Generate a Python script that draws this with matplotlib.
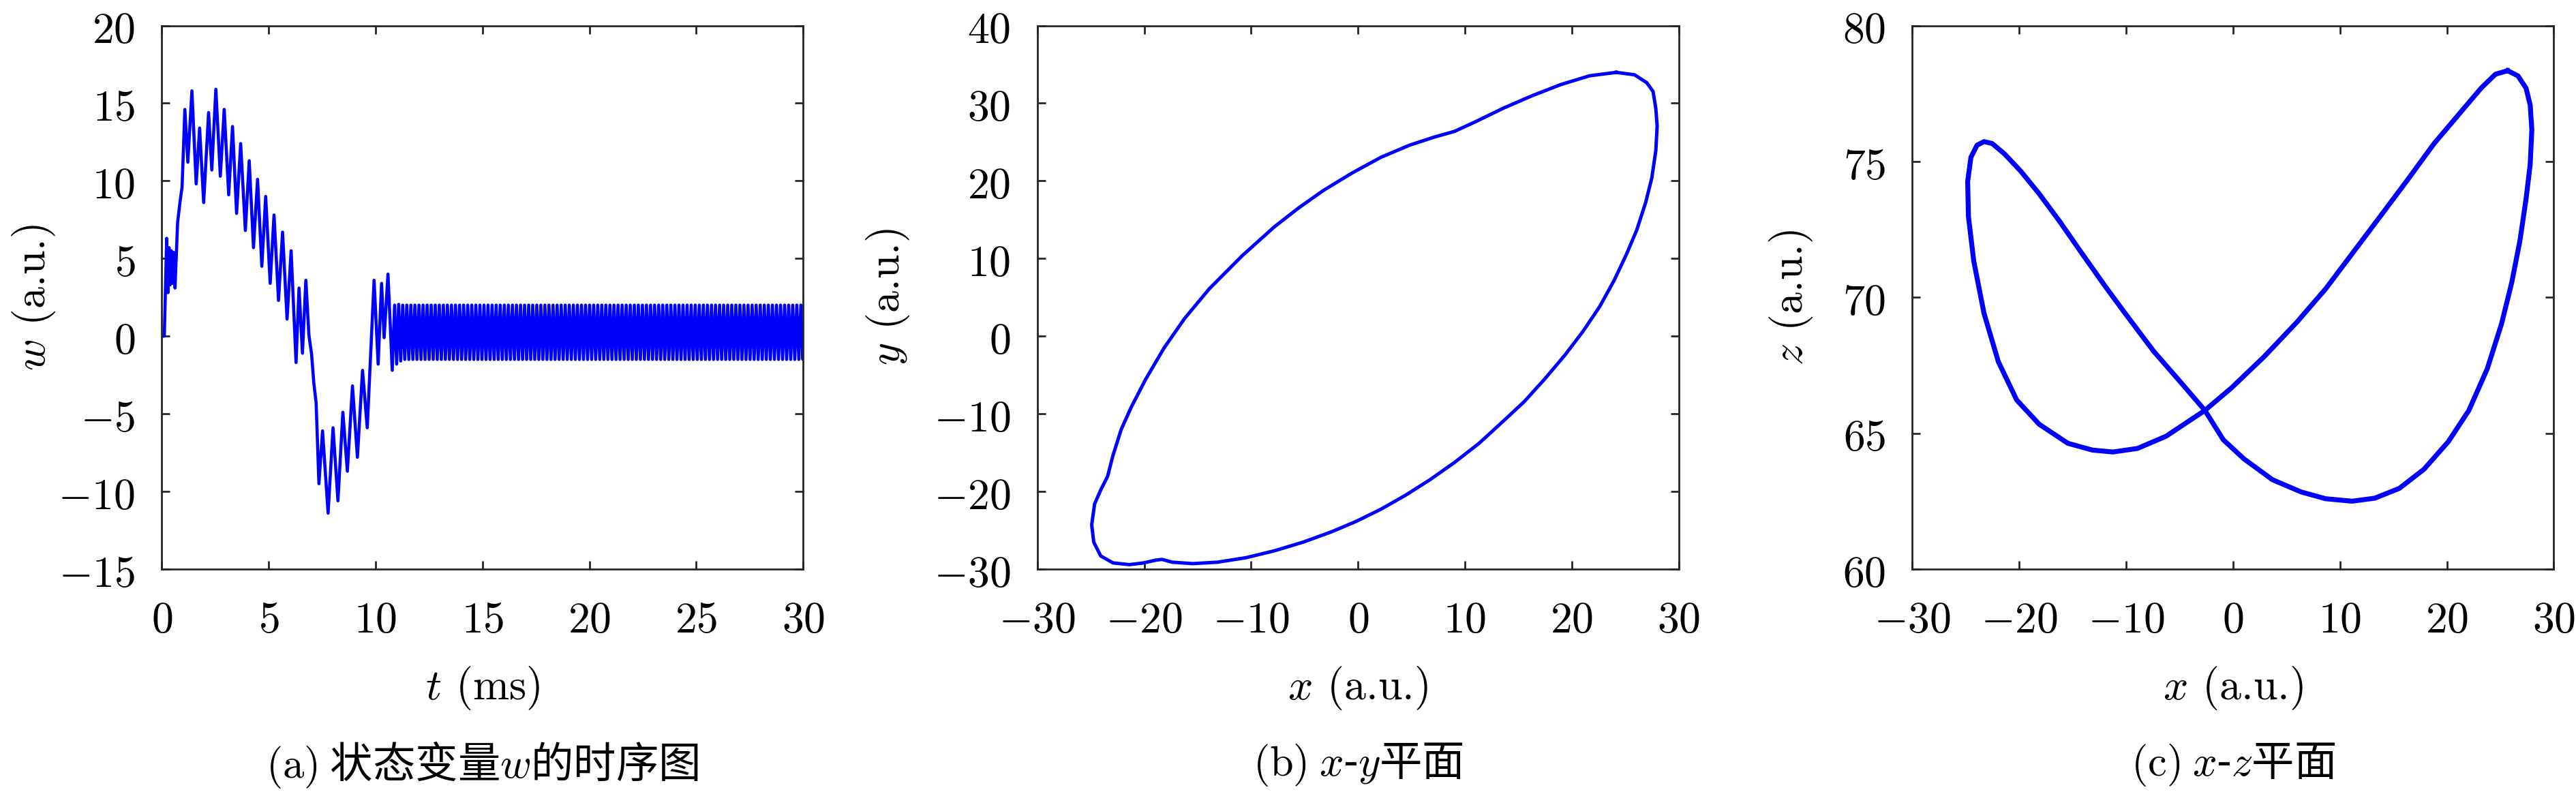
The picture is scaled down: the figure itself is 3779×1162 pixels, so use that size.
import matplotlib
matplotlib.use('Agg')
import matplotlib.pyplot as plt
from matplotlib.ticker import FuncFormatter, MultipleLocator

plt.rcParams['mathtext.fontset'] = 'cm'
plt.rcParams['font.family'] = ['Noto Sans CJK SC', 'DejaVu Sans']

# ---------------- panel (a): time series of w (transient, key points) ----------------
t_transient = [0.00, 0.12, 0.23, 0.29, 0.34, 0.39, 0.45, 0.50, 0.55, 0.62, 0.74, 0.85, 0.95, 1.00,
               1.08, 1.22, 1.41, 1.61, 1.77, 1.96, 2.19, 2.34, 2.53, 2.74, 2.92, 3.13, 3.31, 3.50,
               3.69, 3.91, 4.09, 4.29, 4.48, 4.68, 4.86, 5.07, 5.25, 5.46, 5.65, 5.86, 6.05, 6.28,
               6.42, 6.58, 6.74, 6.88, 7.01, 7.11, 7.22, 7.35, 7.52, 7.78, 8.01, 8.24, 8.47, 8.68,
               8.92, 9.15, 9.39, 9.61, 9.93, 10.12, 10.28, 10.40, 10.58, 10.78]
w_transient = [0.0, 0.0, 6.3, 2.8, 5.7, 3.3, 5.5, 3.4, 5.4, 3.1, 7.3, 8.6, 9.6, 11.5,
               14.6, 11.2, 15.8, 9.8, 13.4, 8.6, 14.4, 10.7, 15.9, 10.3, 14.6, 9.1, 13.5, 7.9,
               12.4, 6.8, 11.3, 5.7, 10.1, 4.5, 9.0, 3.4, 7.8, 2.3, 6.7, 1.1, 5.5, -1.7,
               3.1, -1.1, 3.6, 0.1, -1.2, -3.0, -4.3, -9.5, -6.1, -11.4, -5.9, -10.6, -4.9, -8.7,
               -3.2, -7.8, -2.2, -5.9, 3.6, -1.8, 3.4, -0.1, 4.0, -2.2]

# ---------------- panel (a): steady oscillation extrema ----------------
t_steady = [
    10.890, 10.985, 11.080, 11.175, 11.270, 11.365, 11.460, 11.555, 11.650, 11.745,
    11.840, 11.935, 12.030, 12.125, 12.220, 12.315, 12.410, 12.505, 12.600, 12.695,
    12.790, 12.885, 12.980, 13.075, 13.170, 13.265, 13.360, 13.455, 13.550, 13.645,
    13.740, 13.835, 13.930, 14.025, 14.120, 14.215, 14.310, 14.405, 14.500, 14.595,
    14.690, 14.785, 14.880, 14.975, 15.070, 15.165, 15.260, 15.355, 15.450, 15.545,
    15.640, 15.735, 15.830, 15.925, 16.020, 16.115, 16.210, 16.305, 16.400, 16.495,
    16.590, 16.685, 16.780, 16.875, 16.970, 17.065, 17.160, 17.255, 17.350, 17.445,
    17.540, 17.635, 17.730, 17.825, 17.920, 18.015, 18.110, 18.205, 18.300, 18.395,
    18.490, 18.585, 18.680, 18.775, 18.870, 18.965, 19.060, 19.155, 19.250, 19.345,
    19.440, 19.535, 19.630, 19.725, 19.820, 19.915, 20.010, 20.105, 20.200, 20.295,
    20.390, 20.485, 20.580, 20.675, 20.770, 20.865, 20.960, 21.055, 21.150, 21.245,
    21.340, 21.435, 21.530, 21.625, 21.720, 21.815, 21.910, 22.005, 22.100, 22.195,
    22.290, 22.385, 22.480, 22.575, 22.670, 22.765, 22.860, 22.955, 23.050, 23.145,
    23.240, 23.335, 23.430, 23.525, 23.620, 23.715, 23.810, 23.905, 24.000, 24.095,
    24.190, 24.285, 24.380, 24.475, 24.570, 24.665, 24.760, 24.855, 24.950, 25.045,
    25.140, 25.235, 25.330, 25.425, 25.520, 25.615, 25.710, 25.805, 25.900, 25.995,
    26.090, 26.185, 26.280, 26.375, 26.470, 26.565, 26.660, 26.755, 26.850, 26.945,
    27.040, 27.135, 27.230, 27.325, 27.420, 27.515, 27.610, 27.705, 27.800, 27.895,
    27.990, 28.085, 28.180, 28.275, 28.370, 28.465, 28.560, 28.655, 28.750, 28.845,
    28.940, 29.035, 29.130, 29.225, 29.320, 29.415, 29.510, 29.605, 29.700, 29.795,
    29.890, 29.985, 30.000]
w_steady = [
    2.0, -1.8, 2.05, -1.6, 2.0, -1.5, 2.0, -1.5, 2.0, -1.5,
    2.0, -1.5, 2.0, -1.5, 2.0, -1.5, 2.0, -1.5, 2.0, -1.5,
    2.0, -1.5, 2.0, -1.5, 2.0, -1.5, 2.0, -1.5, 2.0, -1.5,
    2.0, -1.5, 2.0, -1.5, 2.0, -1.5, 2.0, -1.5, 2.0, -1.5,
    2.0, -1.5, 2.0, -1.5, 2.0, -1.5, 2.0, -1.5, 2.0, -1.5,
    2.0, -1.5, 2.0, -1.5, 2.0, -1.5, 2.0, -1.5, 2.0, -1.5,
    2.0, -1.5, 2.0, -1.5, 2.0, -1.5, 2.0, -1.5, 2.0, -1.5,
    2.0, -1.5, 2.0, -1.5, 2.0, -1.5, 2.0, -1.5, 2.0, -1.5,
    2.0, -1.5, 2.0, -1.5, 2.0, -1.5, 2.0, -1.5, 2.0, -1.5,
    2.0, -1.5, 2.0, -1.5, 2.0, -1.5, 2.0, -1.5, 2.0, -1.5,
    2.0, -1.5, 2.0, -1.5, 2.0, -1.5, 2.0, -1.5, 2.0, -1.5,
    2.0, -1.5, 2.0, -1.5, 2.0, -1.5, 2.0, -1.5, 2.0, -1.5,
    2.0, -1.5, 2.0, -1.5, 2.0, -1.5, 2.0, -1.5, 2.0, -1.5,
    2.0, -1.5, 2.0, -1.5, 2.0, -1.5, 2.0, -1.5, 2.0, -1.5,
    2.0, -1.5, 2.0, -1.5, 2.0, -1.5, 2.0, -1.5, 2.0, -1.5,
    2.0, -1.5, 2.0, -1.5, 2.0, -1.5, 2.0, -1.5, 2.0, -1.5,
    2.0, -1.5, 2.0, -1.5, 2.0, -1.5, 2.0, -1.5, 2.0, -1.5,
    2.0, -1.5, 2.0, -1.5, 2.0, -1.5, 2.0, -1.5, 2.0, -1.5,
    2.0, -1.5, 2.0, -1.5, 2.0, -1.5, 2.0, -1.5, 2.0, -1.5,
    2.0, -1.5, 2.0, -1.5, 2.0, -1.5, 2.0, -1.5, 2.0, -1.5,
    2.0, -1.5, 0.3]

# ---------------- panel (b): x-y plane ----------------
x_b = [24.15, 25.87, 27.02, 27.60, 27.86, 27.98, 27.86, 27.48, 26.91, 26.07, 25.11, 23.96,
       22.62, 21.09, 19.37, 17.45, 15.54, 13.63, 11.33, 9.04, 6.74, 4.44, 2.15, -0.15,
       -2.45, -5.12, -7.80, -10.48, -13.16, -15.46, -17.37, -18.33, -18.90, -20.05, -21.39,
       -22.92, -24.07, -24.72, -24.91, -24.64, -24.07, -23.42, -22.92, -22.15, -21.20,
       -19.86, -18.14, -16.22, -13.93, -10.87, -7.80, -5.51, -3.21, -0.53, 2.15, 4.83,
       7.12, 9.04, 10.95, 13.63, 16.31, 18.99, 21.66, 24.15]
y_b = [33.97, 33.66, 32.63, 31.50, 29.29, 27.05, 23.93, 20.36, 17.23, 13.66, 10.54, 7.19,
       3.84, 0.71, -2.41, -5.54, -8.44, -10.89, -13.79, -16.25, -18.48, -20.49, -22.28, -23.84,
       -25.18, -26.52, -27.63, -28.53, -29.11, -29.29, -29.11, -28.75, -28.84, -29.20, -29.42,
       -29.20, -28.30, -26.52, -24.29, -21.61, -19.82, -18.04, -15.36, -12.01, -9.11,
       -5.54, -1.52, 2.28, 6.07, 10.31, 14.11, 16.56, 18.79, 21.03, 23.04, 24.60,
       25.63, 26.38, 27.59, 29.38, 30.98, 32.41, 33.53, 33.97]

# ---------------- panel (c): x-z plane ----------------
x_c = [25.68, 26.64, 27.40, 27.79, 27.94, 27.79, 27.40, 26.83, 26.07, 25.11, 23.77, 22.05,
       20.13, 17.84, 15.54, 13.25, 11.14, 8.65, 6.36, 3.68, 1.00, -0.92, -2.64, -4.74,
       -7.42, -10.10, -12.01, -14.31, -16.22, -18.14, -19.86, -21.39, -22.54, -23.30,
       -23.95, -24.53, -24.83, -24.76, -24.26, -23.30, -21.96, -20.24, -18.14, -15.46,
       -13.16, -11.25, -8.95, -6.27, -2.64, -0.15, 2.91, 5.97, 8.65, 11.33, 14.01, 16.31,
       18.80, 21.28, 23.20, 24.54, 25.68]
z_c = [78.34, 78.15, 77.70, 77.07, 76.17, 74.90, 73.62, 72.09, 70.56, 69.03, 67.37, 65.84,
       64.69, 63.67, 62.97, 62.61, 62.50, 62.59, 62.84, 63.29, 64.06, 64.76, 65.84, 66.80,
       68.01, 69.41, 70.43, 71.71, 72.79, 73.81, 74.64, 75.28, 75.66, 75.73,
       75.60, 75.15, 74.26, 72.98, 71.33, 69.41, 67.63, 66.22, 65.33, 64.63,
       64.38, 64.31, 64.44, 64.89, 65.84, 66.67, 67.82, 69.09, 70.31, 71.71, 73.11, 74.32,
       75.66, 76.81, 77.70, 78.21, 78.34]

# ---------------- axis settings ----------------
xlim_a, ylim_a = (0, 30), (-15, 20)
xlim_b, ylim_b = (-30, 30), (-30, 40)
xlim_c, ylim_c = (-30, 30), (60, 80)

W, H = 3780, 1162
BLUE = '#0000FF'
SPINE = '#262626'
TICKFS = 46
CAPFS = 45

fig = plt.figure(figsize=(W / 100, H / 100), dpi=100)

ax_top, ax_bot = 37.5, 835.0
ax_w = 941.0
lefts = [237.3, 1521.7, 2805.5]

fmt = FuncFormatter(lambda v, p: r'$%g$' % v)

axes = []
for L in lefts:
    ax = fig.add_axes([L / W, 1 - ax_bot / H, ax_w / W, (ax_bot - ax_top) / H])
    for s in ax.spines.values():
        s.set_color(SPINE)
        s.set_linewidth(2.0)
    ax.tick_params(direction='in', top=True, right=True, length=8.5, width=2.0,
                   color=SPINE, labelsize=TICKFS, pad=30)
    ax.tick_params(axis='y', pad=28)
    ax.xaxis.set_major_formatter(fmt)
    ax.yaxis.set_major_formatter(fmt)
    axes.append(ax)

ax_a, ax_b, ax_c = axes

ax_a.plot(t_transient + t_steady, w_transient + w_steady, color=BLUE, lw=3.3,
          solid_joinstyle='round')
ax_a.set_xlim(*xlim_a)
ax_a.set_ylim(*ylim_a)
ax_a.xaxis.set_major_locator(MultipleLocator(5))
ax_a.yaxis.set_major_locator(MultipleLocator(5))

ax_b.plot(x_b, y_b, color=BLUE, lw=3.6, solid_joinstyle='round')
ax_b.set_xlim(*xlim_b)
ax_b.set_ylim(*ylim_b)
ax_b.xaxis.set_major_locator(MultipleLocator(10))
ax_b.yaxis.set_major_locator(MultipleLocator(10))

ax_c.plot(x_c, z_c, color=BLUE, lw=5.2, solid_joinstyle='round')
ax_c.set_xlim(*xlim_c)
ax_c.set_ylim(*ylim_c)
ax_c.xaxis.set_major_locator(MultipleLocator(10))
ax_c.yaxis.set_major_locator(MultipleLocator(5))

# labels
xlabels = [r'$t$ (ms)', r'$x$ (a.u.)', r'$x$ (a.u.)']
ylabels = [r'$w$ (a.u.)', r'$y$ (a.u.)', r'$z$ (a.u.)']
ylabel_x = [50, 1303, 2627]
captions = [r'$(\mathrm{a})$ 状态变量$w$的时序图', r'$(\mathrm{b})$ $x$-$y$平面', r'$(\mathrm{c})$ $x$-$z$平面']

for i, L in enumerate(lefts):
    cx = (L + ax_w / 2) / W
    fig.text(cx, 1 - 1010 / H, xlabels[i], fontsize=TICKFS, ha='center', va='center',
             family='cmr10')
    fig.text(ylabel_x[i] / W, 1 - 436 / H, ylabels[i], fontsize=TICKFS, ha='center',
             va='center', rotation=90, family='cmr10')
    fig.text(cx, 1 - 1122 / H, captions[i], fontsize=CAPFS, ha='center', va='center',
             family=['Noto Sans CJK SC', 'DejaVu Sans'])

fig.savefig('out.png', dpi=100)
